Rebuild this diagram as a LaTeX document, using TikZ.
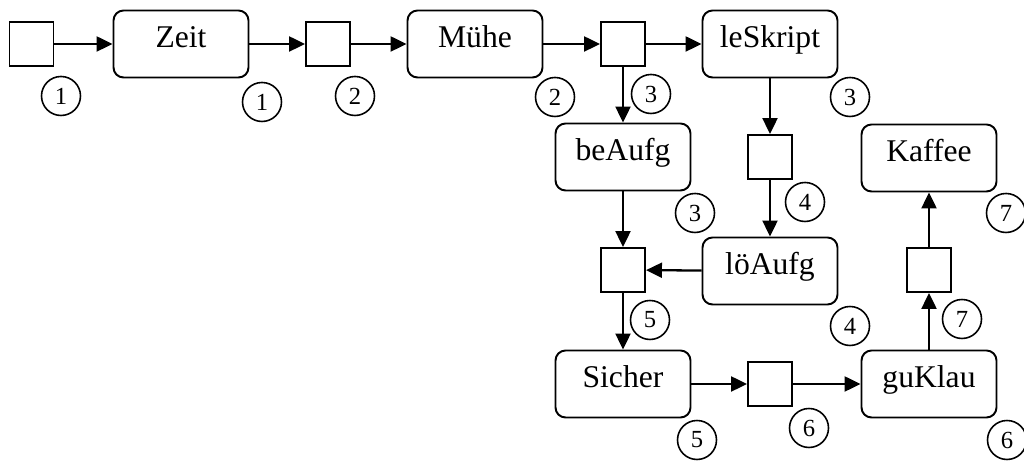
\documentclass[tikz,border=0pt]{standalone}
\usepackage{fontspec}
\setmainfont{Liberation Serif}
\usetikzlibrary{arrows.meta, positioning}

\tikzset{
    stelle/.style={draw, line width=1.1pt, rounded corners=0.2cm,
        minimum width=2.7cm, minimum height=1.34cm, inner sep=0pt,
        font=\fontsize{18}{21}\selectfont, text height=0.43cm, text depth=0.27cm},
    trans/.style={draw, line width=1.1pt, minimum size=0.88cm, inner sep=0pt},
    nr/.style={draw, circle, line width=0.9pt, minimum size=0.78cm, inner sep=0pt,
        font=\fontsize{14}{16}\selectfont},
    pfeil/.style={->, line width=1.3pt},
}

\begin{document}
\begin{tikzpicture}[x=0.02cm,y=0.02cm,>={Triangle[length=0.32cm,width=0.3cm]}]
            \useasboundingbox (0,0) rectangle (1024,462);

            % Stellen und Transitionen
            \node[trans] (t1) at (31.5,418) {};
            \node[stelle] (zeit) at (181,418) {Zeit};
            \node[trans] (t2) at (328,418) {};
            \node[stelle] (muehe) at (475,418) {Mühe};
            \node[trans] (t3) at (623,418) {};
            \node[stelle] (leskript) at (770,418) {leSkript};
            \node[stelle] (beaufg) at (623,305) {beAufg};
            \node[trans] (t4) at (770,305) {};
            \node[stelle] (kaffee) at (929,304) {Kaffee};
            \node[trans] (t5) at (623,192) {};
            \node[stelle] (loeaufg) at (770,191) {löAufg};
            \node[trans] (t7) at (929,192) {};
            \node[stelle] (sicher) at (623,78) {Sicher};
            \node[trans] (t6) at (770,78) {};
            \node[stelle] (guklau) at (929,78) {guKlau};

            % Nummern
            \node[nr] (n1) at (61,366) {1};
            \node[nr] (n2) at (262,360) {1};
            \node[nr] (n3) at (355,366) {2};
            \node[nr] (n4) at (555,365) {2};
            \node[nr] (n5) at (651,368) {3};
            \node[nr] (n6) at (850,365) {3};
            \node[nr] (n7) at (695,249) {3};
            \node[nr] (n8) at (805,260) {4};
            \node[nr] (n9) at (1006,249) {7};
            \node[nr] (n10) at (650,142) {5};
            \node[nr] (n11) at (850,136) {4};
            \node[nr] (n12) at (962,143) {7};
            \node[nr] (n13) at (697,22) {5};
            \node[nr] (n14) at (809,34) {6};
            \node[nr] (n15) at (1007,22) {6};

            % Kanten
            \draw[pfeil] (t1) -- (zeit);
            \draw[pfeil] (zeit) -- (t2);
            \draw[pfeil] (t2) -- (muehe);
            \draw[pfeil] (muehe) -- (t3);
            \draw[pfeil] (t3) -- (leskript);
            \draw[pfeil] (t3) -- (beaufg);
            \draw[pfeil] (leskript) -- (t4);
            \draw[pfeil] (t4) -- (loeaufg);
            \draw[pfeil] (beaufg) -- (t5);
            \draw[pfeil] (loeaufg) -- (t5);
            \draw[pfeil] (t5) -- (sicher);
            \draw[pfeil] (sicher) -- (t6);
            \draw[pfeil] (t6) -- (guklau);
            \draw[pfeil] (guklau) -- (t7);
            \draw[pfeil] (t7) -- (kaffee);
        \end{tikzpicture}
\end{document}
